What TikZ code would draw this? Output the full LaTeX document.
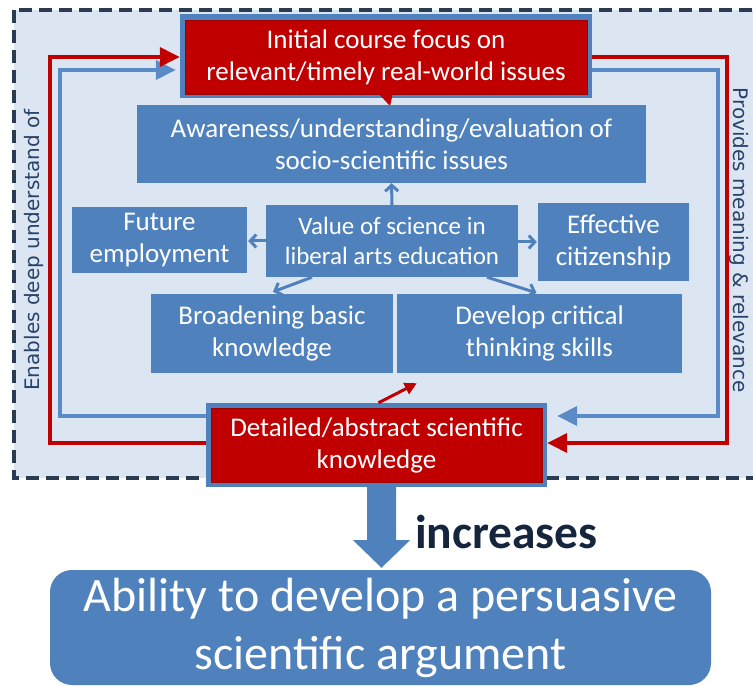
\documentclass[tikz,border=0pt]{standalone}
\usepackage{fontspec}
\setmainfont{Carlito}
\newfontfamily\dvs{DejaVu Sans}
\usetikzlibrary{arrows.meta,calc}
\definecolor{bgblue}{HTML}{DCE6F2}
\definecolor{boxblue}{HTML}{4F81BD}
\definecolor{linblue}{HTML}{5B8BC6}
\definecolor{dred}{HTML}{C00000}
\definecolor{dredline}{HTML}{9E0000}
\definecolor{dashc}{HTML}{2B3B52}
\definecolor{sidetext}{HTML}{27436A}
\definecolor{navy}{HTML}{14253D}
\begin{document}
\begin{tikzpicture}[x=1pt,y=-1pt,
  bbox/.style={fill=boxblue,text=white,align=center,inner sep=0pt,font=\fontsize{27}{32}\selectfont},
  frame/.style={fill=boxblue,inner sep=0pt},
  redbox/.style={fill=dred,draw=dredline,line width=0.6pt,text=white,align=center,inner sep=0pt,font=\fontsize{27}{32}\selectfont},
  blueloop/.style={draw=linblue,line width=3.8pt,-{Triangle[length=20pt,width=19pt]}},
  redloop/.style={draw=dred,line width=3.6pt,-{Triangle[length=20pt,width=19pt]}},
  smallarr/.style={draw=boxblue,line width=3pt,-{Straight Barb[length=6pt,width=13pt]}},
  sidelabel/.style={text=sidetext,font=\dvs\fontsize{20}{22}\selectfont,inner sep=0pt}
]
\useasboundingbox (0,0) rectangle (753,687);
\begin{scope}
  \clip (0,0) rectangle (753,687);
  \draw[dashc,line width=3.2pt,dash pattern=on 13pt off 7pt,fill=bgblue] (14,10) rectangle (775,478);
\end{scope}

% side labels
\node[sidelabel,rotate=90] (lefttxt) at (34,250) {Enables deep understand of};
\node[sidelabel,rotate=-90] (righttxt) at (739,240) {Provides meaning \& relevance};

% loop corner coordinates
\coordinate (bl1) at (60,416);
\coordinate (bl2) at (60,70);
\coordinate (br1) at (718,70);
\coordinate (br2) at (718,416);
\coordinate (rl1) at (50,443);
\coordinate (rl2) at (50,57);
\coordinate (rr1) at (727,57);
\coordinate (rr2) at (727,443);

% top red box with blue frame
\node[frame,minimum width=412pt,minimum height=84pt] (topout) at (386,56) {};
\node[redbox,minimum width=402pt,minimum height=74pt] (top) at (386,57) {Initial course focus on\\relevant/timely real-world issues};
\fill[dred] (378,93) -- (393,93) -- (390,106) -- cycle;

% detailed box with blue frame
\node[frame,minimum width=341pt,minimum height=84pt] (detout) at (376.5,445) {};
\node[redbox,minimum width=331pt,minimum height=74pt] (det) at (376.5,445) {Detailed/abstract scientific\\knowledge};

% blue inner boxes
\node[bbox,minimum width=509pt,minimum height=78pt] (aware) at (391.5,144) {Awareness/understanding/evaluation of\\socio-scientific issues};
\node[bbox,minimum width=175pt,minimum height=66pt] (future) at (159.5,240) {Future\\employment};
\node[bbox,minimum width=252pt,minimum height=72pt,font=\fontsize{25}{30}\selectfont] (value) at (392,241) {Value of science in\\liberal arts education};
\node[bbox,minimum width=151pt,minimum height=78pt] (citizen) at (613.5,242) {Effective\\citizenship};
\node[bbox,minimum width=242pt,minimum height=79pt] (broad) at (272,333.5) {Broadening basic\\knowledge};
\node[bbox,minimum width=285pt,minimum height=79pt] (critical) at (539.5,333.5) {Develop critical\\thinking skills};

% loops
\draw[blueloop] (detout.west |- bl1) -- (bl1) -- (bl2) -- ([xshift=-4pt]topout.west |- bl2);
\draw[blueloop] (topout.east |- br1) -- (br1) -- (br2) -- ([xshift=10pt]detout.east |- br2);
\draw[redloop] (detout.west |- rl1) -- (rl1) -- (rl2) -- (topout.west |- rl2);
\draw[redloop] (topout.east |- rr1) -- (rr1) -- (rr2) -- (detout.east |- rr2);

% value arrows
\draw[smallarr] (value.north) -- (aware.south);
\draw[smallarr] (value.west) -- ([xshift=1pt]future.east |- value.west);
\draw[smallarr] (value.east |- 0,242) -- ([xshift=-1pt]citizen.west |- 0,242);
\draw[smallarr] ([xshift=-80pt]value.south) -- ($(broad.north)+(1,-2)$);
\draw[smallarr] ([xshift=95pt]value.south) -- ($(critical.north)+(-3,-1)$);
\draw[draw=dred,line width=3pt,-{Triangle[length=12pt,width=12pt]}] ([xshift=2pt]detout.north) -- ($(critical.south west)+(20,10)$);

% bottom
\node[fill=boxblue,rounded corners=22pt,minimum width=661pt,minimum height=115pt,text=white,align=center,inner sep=0pt,font=\fontsize{48}{58}\selectfont] (ability) at (380.5,627.5) {Ability to develop a persuasive\\scientific argument};
\fill[boxblue] ($(detout.south)+(-9.5,0)$) -- ++(29,0) -- ++(0,53) -- ++(14,0) -- ($(ability.north)+(1,-2)$) -- ($(detout.south)+(-23.5,53)$) -- ++(14,0) -- cycle;
\node[anchor=base west,text=navy,font=\bfseries\fontsize{47.5}{50}\selectfont,inner sep=0pt] (incr) at (415,548) {increases};
\end{tikzpicture}
\end{document}
